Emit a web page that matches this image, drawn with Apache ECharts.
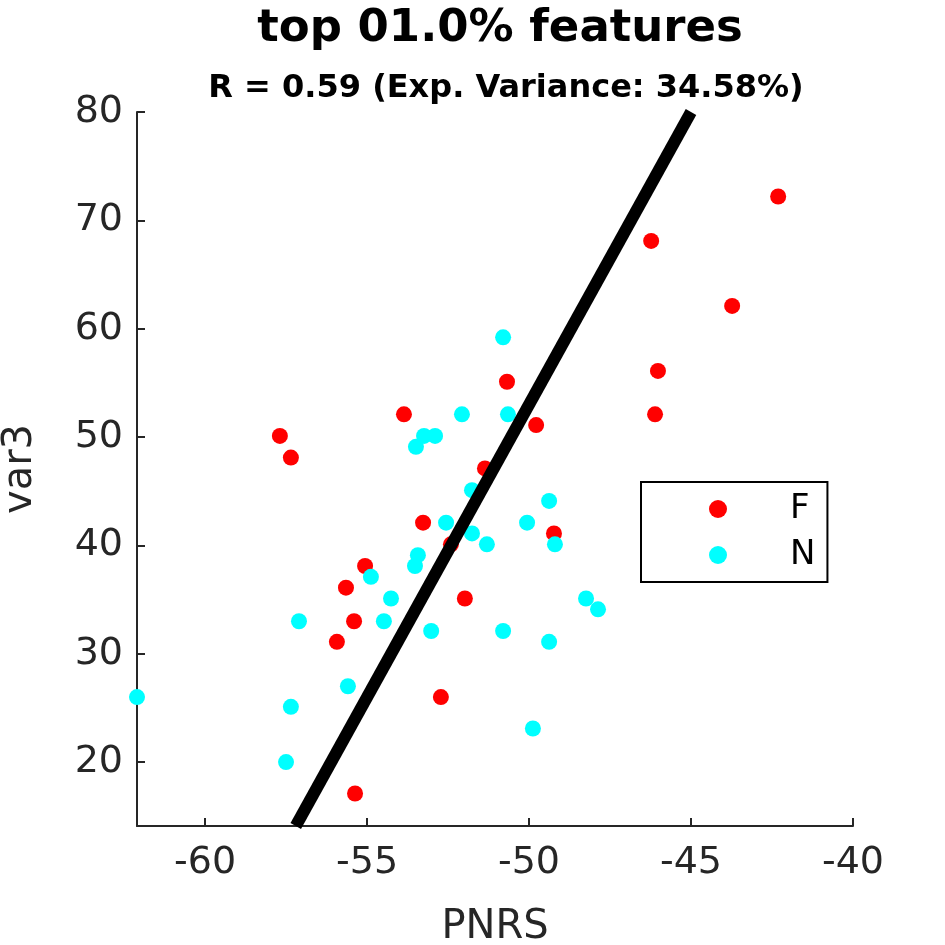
<!DOCTYPE html>
<html><head><meta charset="utf-8">
<script src="https://cdn.jsdelivr.net/npm/echarts@6/dist/echarts.min.js"></script>
<style>html,body{margin:0;padding:0;background:#fff}#c{width:945px;height:945px}</style>
</head><body><div id="c"></div>
<script>
var groupF = [[-57.69,50.1],[-57.35,48.1],[-53.86,52.1],[-50.68,55.1],[-49.78,51.1],[-46.23,68.1],
  [-42.31,72.2],[-43.73,62.1],[-46.02,56.1],[-46.11,52.1],[-51.36,47.1],[-53.27,42.1],[-52.41,40.1],
  [-49.23,41.1],[-55.06,38.1],[-55.65,36.1],[-55.40,33.0],[-55.93,31.1],[-51.98,35.1],[-52.72,26.0],[-55.37,17.1]];
var groupN = [[-62.1,26.0],[-50.80,59.2],[-52.07,52.1],[-50.65,52.1],[-53.24,50.1],[-52.90,50.1],
  [-53.49,49.1],[-51.76,45.1],[-49.38,44.1],[-52.56,42.1],[-50.06,42.1],[-51.76,41.1],[-51.30,40.1],
  [-49.20,40.1],[-53.43,39.1],[-53.52,38.1],[-54.88,37.1],[-54.26,35.1],[-48.24,35.1],[-47.87,34.1],
  [-57.10,33.0],[-54.48,33.0],[-53.02,32.1],[-50.80,32.1],[-49.38,31.1],[-55.59,27.0],[-57.35,25.1],
  [-49.88,23.1],[-57.50,20.0]];
var fitLine = [[-57.2,14.1],[-45,80]];
var xTicks = [-60,-55,-50,-45,-40];
var yTicks = [20,30,40,50,60,70,80];

var chart = echarts.init(document.getElementById('c'));
var axisCol = '#262626';
chart.setOption({
  animation: false,
  title: [
    {text: 'top 01.0% features', left: 495, textAlign: 'center', top: 2,
     textStyle: {fontFamily: 'DejaVu Sans', fontWeight: 'bold', fontSize: 45, color: '#000'}},
    {text: 'R = 0.59 (Exp. Variance: 34.58%)', left: 501, textAlign: 'center', top: 68,
     textStyle: {fontFamily: 'DejaVu Sans', fontWeight: 'bold', fontSize: 32, color: '#000'}}
  ],
  legend: {
    left: 641, top: 482, orient: 'vertical',
    borderColor: '#000', borderWidth: 2, padding: [10, 12, 10, 68], itemGap: 12,
    itemWidth: 18, itemHeight: 18, icon: 'circle',
    textStyle: {fontFamily: 'DejaVu Sans', fontSize: 34, color: '#000', width: 60, padding: [0, 0, 0, 58]},
    data: ['F', 'N']
  },
  grid: {left: 137, right: 92, top: 112, bottom: 119, outerBoundsMode: 'none', containLabel: false},
  xAxis: {
    type: 'value', min: -62.1, max: -40, name: 'PNRS', nameLocation: 'middle', nameGap: 82,
    nameTextStyle: {fontFamily: 'DejaVu Sans', fontSize: 40, color: axisCol},
    axisLine: {onZero: false, lineStyle: {color: axisCol, width: 2}},
    axisTick: {inside: true, length: 8, customValues: xTicks, lineStyle: {color: axisCol, width: 2}},
    axisLabel: {customValues: xTicks, fontFamily: 'DejaVu Sans', fontSize: 38, color: axisCol, margin: 18},
    splitLine: {show: false}
  },
  yAxis: {
    type: 'value', min: 14.1, max: 80, name: 'var3', nameLocation: 'middle', nameGap: 96,
    nameTextStyle: {fontFamily: 'DejaVu Sans', fontSize: 40, color: axisCol},
    axisLine: {show: true, onZero: false, lineStyle: {color: axisCol, width: 2}},
    axisTick: {show: true, inside: true, length: 8, customValues: yTicks, lineStyle: {color: axisCol, width: 2}},
    axisLabel: {customValues: yTicks, fontFamily: 'DejaVu Sans', fontSize: 38, color: axisCol, margin: 14},
    splitLine: {show: false}
  },
  series: [
    {name: 'F', type: 'scatter', data: groupF, symbolSize: 16, itemStyle: {color: '#ff0000', opacity: 1}, z: 3},
    {name: 'N', type: 'scatter', data: groupN, symbolSize: 16, itemStyle: {color: '#00ffff', opacity: 1}, z: 3},
    {name: 'fit', type: 'line', data: fitLine, showSymbol: false, symbol: 'none',
     lineStyle: {color: '#000', width: 12}, clip: true, z: 4}
  ]
});
</script></body></html>
